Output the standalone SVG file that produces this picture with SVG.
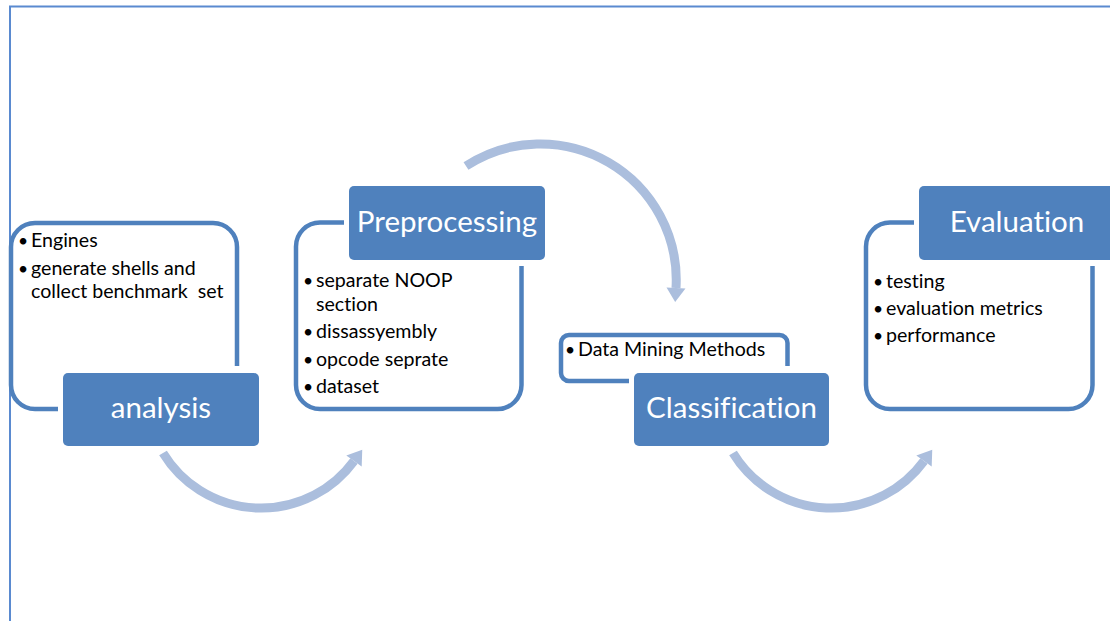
<svg xmlns="http://www.w3.org/2000/svg" width="1110" height="621" viewBox="0 0 1110 621">
  <style>
    .frame { fill: none; stroke: #5a8ad0; stroke-width: 2; }
    .outline { fill: none; stroke: #4f81bd; stroke-width: 4.5; }
    .label-box { fill: #4f81bd; }
    .label { fill: #ffffff; font-family: Lato, "Liberation Sans", sans-serif; font-size: 29.5px; text-anchor: middle; font-variant-ligatures: none; }
    .item { fill: #000000; font-family: Lato, "Liberation Sans", sans-serif; font-size: 19.6px; white-space: pre; font-variant-ligatures: none; }
    .dot { fill: #000000; font-family: Lato, "Liberation Sans", sans-serif; font-size: 17.5px; }
    .flow { fill: none; stroke: #abbedd; stroke-width: 9; marker-end: url(#head); }
  </style>
  <defs>
    <marker id="head" markerUnits="userSpaceOnUse" markerWidth="20" markerHeight="22" refX="0" refY="11" orient="auto" overflow="visible">
      <path d="M0,1.5 L14,11 L0,20.5 z" fill="#abbedd"/>
    </marker>
  </defs>

  <rect width="1110" height="621" fill="#ffffff"/>
  <path class="frame" d="M10,622 V6.5 H1112"/>

  <!-- connectors -->
  <g id="connectors">
    <path class="flow" d="M163,453 A115,115 0 0 0 354,461"/>
    <path class="flow" d="M466,166 A136,136 0 0 1 676,288"/>
    <path class="flow" d="M733,453 A115,115 0 0 0 924,461"/>
  </g>

  <!-- analysis -->
  <g id="analysis">
    <path class="outline" d="M237,366 V247 A24,24 0 0 0 213,223 H35 A24,24 0 0 0 11,247 V385 A24,24 0 0 0 35,409 H58"/>
    <text class="dot" x="18" y="247">•</text>
    <text class="item" x="31" y="247">Engines</text>
    <text class="dot" x="18" y="275">•</text>
    <text class="item" x="31" y="275">generate shells and</text>
    <text class="item" x="31" y="298">collect benchmark  set</text>
    <rect class="label-box" x="63" y="373" width="196" height="73" rx="5"/>
    <text class="label" x="161" y="418">analysis</text>
  </g>

  <!-- Preprocessing -->
  <g id="preprocessing">
    <path class="outline" d="M521.5,266 V385 A24,24 0 0 1 497.5,409 H320 A24,24 0 0 1 296,385 V246.5 A24,24 0 0 1 320,222.5 H344"/>
    <text class="dot" x="303" y="287">•</text>
    <text class="item" x="316" y="287">separate NOOP</text>
    <text class="item" x="316" y="311">section</text>
    <text class="dot" x="303" y="338">•</text>
    <text class="item" x="316" y="338">dissassyembly</text>
    <text class="dot" x="303" y="366">•</text>
    <text class="item" x="316" y="366">opcode seprate</text>
    <text class="dot" x="303" y="393">•</text>
    <text class="item" x="316" y="393">dataset</text>
    <rect class="label-box" x="349" y="186" width="196" height="74" rx="5"/>
    <text class="label" x="447" y="232">Preprocessing</text>
  </g>

  <!-- Classification -->
  <g id="classification">
    <path class="outline" d="M787.5,366 V343 A8,8 0 0 0 779.5,335 H569 A8,8 0 0 0 561,343 V373 A8,8 0 0 0 569,381 H629"/>
    <text class="dot" x="565" y="356">•</text>
    <text class="item" x="578" y="356">Data Mining Methods</text>
    <rect class="label-box" x="634" y="373" width="195" height="73" rx="5"/>
    <text class="label" x="731.5" y="418">Classification</text>
  </g>

  <!-- Evaluation -->
  <g id="evaluation">
    <path class="outline" d="M1092.5,266 V385 A24,24 0 0 1 1068.5,409 H890 A24,24 0 0 1 866,385 V246.5 A24,24 0 0 1 890,222.5 H914"/>
    <text class="dot" x="873" y="288">•</text>
    <text class="item" x="886" y="288">testing</text>
    <text class="dot" x="873" y="315">•</text>
    <text class="item" x="886" y="315">evaluation metrics</text>
    <text class="dot" x="873" y="342">•</text>
    <text class="item" x="886" y="342">performance</text>
    <rect class="label-box" x="919" y="186" width="196" height="74" rx="5"/>
    <text class="label" x="1017" y="232">Evaluation</text>
  </g>
</svg>
